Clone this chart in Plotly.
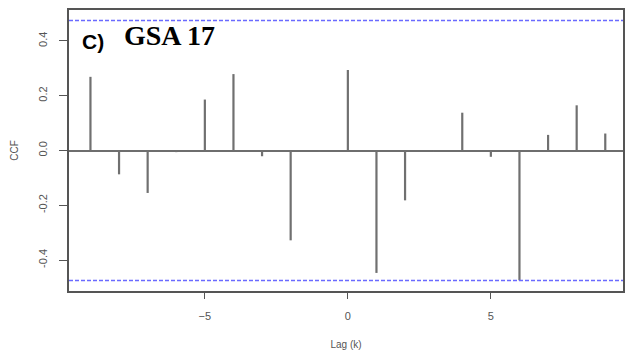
import plotly.graph_objects as go

lags = list(range(-9, 10))
ccf = [0.269, -0.087, -0.155, -0.006, 0.186, 0.279, -0.021, -0.328, -0.005,
       0.294, -0.447, -0.182, -0.005, 0.138, -0.023, -0.474, 0.057, 0.165, 0.062]
ci = 0.475
x_ticks = [-5, 0, 5]
x_tick_text = ["\u22125", "0", "5"]
y_ticks = [-0.4, -0.2, 0.0, 0.2, 0.4]
y_tick_text = ["-0.4", "-0.2", "0.0", "0.2", "0.4"]

xs, ys = [], []
for k, v in zip(lags, ccf):
    xs += [k, k, None]
    ys += [0, v, None]

fig = go.Figure()
fig.add_trace(go.Scatter(x=xs, y=ys, mode="lines",
                         line=dict(color="#707070", width=2.2),
                         hoverinfo="skip", showlegend=False))
for yv in (ci, -ci):
    fig.add_hline(y=yv, line=dict(color="#6a6aff", width=1.5, dash="4px,2px"))

fig.add_annotation(x=0.02, y=0.888, xref="paper", yref="paper", xanchor="left", yanchor="middle",
                   text="<b>C)</b>", showarrow=False,
                   font=dict(family="Liberation Sans", size=21, color="black"))
fig.add_annotation(x=0.095, y=0.91, xref="paper", yref="paper", xanchor="left", yanchor="middle",
                   text="<b>GSA 17</b>", showarrow=False,
                   font=dict(family="Liberation Serif", size=28, color="black"))

axis_common = dict(showline=True, linecolor="#555", linewidth=1.5, mirror=True,
                   ticks="outside", tickcolor="#555", tickwidth=1.2,
                   showgrid=False, tickfont=dict(family="Liberation Sans", size=11, color="#555"))
fig.update_xaxes(range=[-9.75, 9.62], tickvals=x_ticks, ticktext=x_tick_text, zeroline=False,
                 ticklen=6, ticklabelstandoff=8,
                 title=dict(text="Lag (k)", font=dict(family="Liberation Sans", size=10, color="#555"), standoff=20),
                 **axis_common)
fig.update_yaxes(range=[-0.513, 0.513], tickvals=y_ticks, ticktext=y_tick_text, tickangle=-90,
                 ticklen=8, ticklabelstandoff=8,
                 zeroline=True, zerolinecolor="#6e6e6e", zerolinewidth=1.8,
                 title=dict(text="CCF", font=dict(family="Liberation Sans", size=10, color="#555"), standoff=16),
                 **axis_common)
fig.update_layout(width=627, height=353, margin=dict(l=69, r=2, t=10, b=62),
                  plot_bgcolor="white", paper_bgcolor="white")
fig.write_html("out.html", config={"displayModeBar": False},
               post_script="document.body.style.margin='0';")
